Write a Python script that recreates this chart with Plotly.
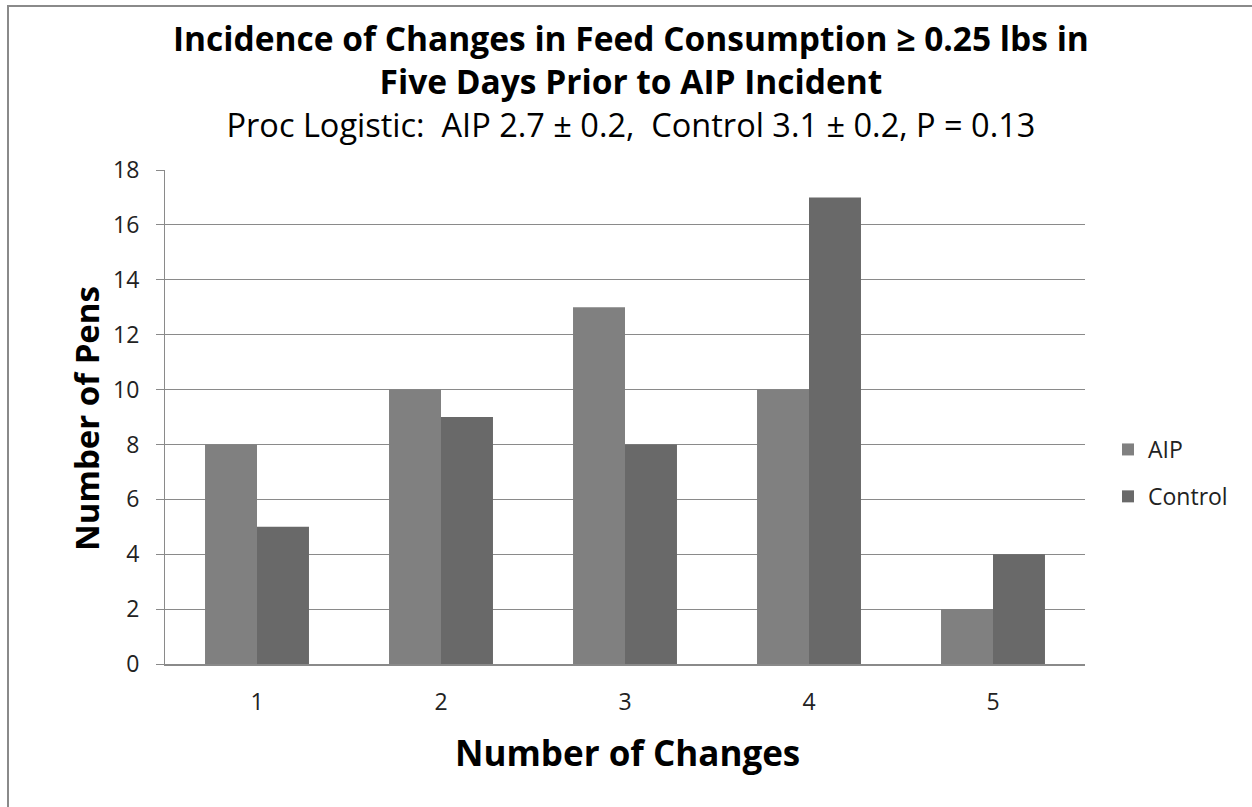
import plotly.graph_objects as go

# Number of pens by count of feed-consumption changes
categories = ["1", "2", "3", "4", "5"]
aip_pens = [8, 10, 13, 10, 2]
control_pens = [5, 9, 8, 17, 4]

title_line1 = "Incidence of Changes in Feed Consumption \u2265 0.25 lbs in"
title_line2 = "Five Days Prior to AIP Incident"
subtitle = "Proc Logistic:  AIP 2.7 \u00b1 0.2,  Control 3.1 \u00b1 0.2, P = 0.13"

W, H = 1252, 807
L, R, T, B = 165, 167, 170, 143
pw, ph = W - L - R, H - T - B

def px(x):
    return (x - L) / pw

def py(y):
    return (H - B - y) / ph

FONT = "'Open Sans', Lato, sans-serif"

fig = go.Figure()
fig.add_trace(go.Bar(x=categories, y=aip_pens, name="AIP",
                     marker=dict(color="#808080", line=dict(width=0)),
                     legendgroup="a"))
fig.add_trace(go.Bar(x=categories, y=control_pens, name="Control",
                     marker=dict(color="#696969", line=dict(width=0)),
                     legendgroup="b"))

# Three-line heading: base size sets line spacing, spans set glyph size
heading = (f"<span style='font-size:33.5px'><b>{title_line1}</b></span><br>"
           f"<span style='font-size:33.5px'><b>{title_line2}</b></span><br>"
           f"<span style='font-size:32.5px'>{subtitle}</span>")

annotations = [
    dict(text=heading, x=px(631), y=py(81), font=dict(size=33, color="#000")),
    dict(text="<b>Number of Changes</b>", x=px(627), y=py(752), font=dict(size=35, color="#000")),
    dict(text="<b>Number of Pens</b>", x=px(86), y=py(419), textangle=-90,
         font=dict(size=33, color="#000")),
]
for a in annotations:
    a.update(xref="paper", yref="paper", showarrow=False, xanchor="center", yanchor="middle")

fig.update_layout(
    width=W, height=H,
    margin=dict(l=L, r=R, t=T, b=B),
    paper_bgcolor="white", plot_bgcolor="white",
    font=dict(family=FONT, color="#222"),
    barmode="group", bargap=0.435, bargroupgap=0,
    showlegend=True,
    legend=dict(x=px(1108), y=py(428), xanchor="left", yanchor="top",
                font=dict(size=23, color="#222"), tracegroupgap=14,
                itemwidth=30, bgcolor="rgba(0,0,0,0)"),
    annotations=annotations,
    shapes=[dict(type="rect", xref="paper", yref="paper",
                 x0=px(8), x1=px(1270), y0=py(830), y1=py(6),
                 line=dict(color="#8a8a8a", width=2), layer="below")],
)
fig.update_xaxes(
    type="category", showline=True, linecolor="#8a8a8a", linewidth=1.5,
    ticks="", tickfont=dict(size=23, color="#222"), ticklabelstandoff=17,
    showgrid=False,
)
fig.update_yaxes(
    range=[0, 18], dtick=2, showgrid=True, gridcolor="#8a8a8a", gridwidth=1,
    showline=True, linecolor="#8a8a8a", linewidth=1,
    ticks="outside", ticklen=8, tickcolor="#8a8a8a",
    tickfont=dict(size=23, color="#222"), ticklabelstandoff=12,
    zeroline=False,
)

fig.write_html("out.html")
